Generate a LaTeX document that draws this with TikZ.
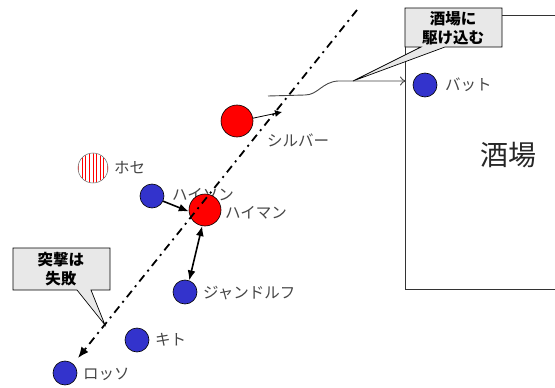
\documentclass[tikz,border=0pt]{standalone}
\usepackage{fontspec}
\setmainfont{Noto Sans CJK JP}
\usetikzlibrary{arrows.meta}
\definecolor{guyblue}{RGB}{51,51,204}
\definecolor{guyred}{RGB}{255,0,0}
\definecolor{calloutgray}{RGB}{232,232,232}
\definecolor{labelgray}{RGB}{70,70,70}

\begin{document}
\begin{tikzpicture}[x=1pt,y=-1pt,
  blueguy/.style={circle,draw=black,line width=0.6pt,fill=guyblue,minimum size=24pt,inner sep=0pt},
  redguy/.style={circle,draw=black,line width=0.6pt,fill=guyred,minimum size=32pt,inner sep=0pt},
  guylabel/.style={anchor=west,text=labelgray,font=\fontsize{15.5}{15.5}\selectfont,inner sep=0pt},
  callout/.style={draw=black,line width=0.7pt,fill=calloutgray},
  callouttext/.style={font=\fontsize{15.5}{19}\selectfont\bfseries,align=center,inner sep=0pt},
  movearrow/.style={line width=1.6pt},
  dashdotline/.style={line width=1.8pt,dash pattern=on 8pt off 5pt on 2pt off 5pt}
]
\useasboundingbox (0,0) rectangle (555,388);
\fill[white] (0,0) rectangle (555,388);

% the tavern
\draw[line width=0.8pt,black!80] (555,15) -- (405,15) -- (405,289) -- (555,289);
\node[font=\fontsize{28}{28}\selectfont,text=black!85] (tavern) at (508,155) {酒場};

% callout over the tavern door
\coordinate (tip1) at (353,81);
\draw[callout] (405,8) -- (502,8) -- (502,47) -- (445,47) -- (tip1) -- (421,47) -- (405,47) -- cycle;
\node[callouttext] (note1) at (453,28) {酒場に\\駆け込む};

% the people
\node[blueguy] (bat) at (425,85) {};
\node[guylabel] (batlbl) at (445,85) {バット};

\node[redguy] (silver) at (237,121) {};
\node[guylabel] (silverlbl) at (267,140) {シルバー};

% Jose: striped marker
\node[circle,fill=white,minimum size=30pt,inner sep=0pt] (jose) at (93,168) {};
\begin{scope}
  \clip (93,168) circle (14.7pt);
  \foreach \k in {-4,...,4}
    \draw[color=guyred,line width=0.9pt] ({93+3.6*\k},150) -- ({93+3.6*\k},186);
\end{scope}
\draw[black!60,line width=0.5pt] (jose) circle (15pt);
\node[guylabel] (joselbl) at (114,168) {ホセ};

\node[blueguy] (hyson) at (152,196) {};
\node[guylabel] (hysonlbl) at (172,195) {ハイソン};

\node[redguy] (haiman) at (205,210) {};
\node[guylabel] (haimanlbl) at (225,213) {ハイマン};

\node[blueguy] (gandolf) at (185,292) {};
\node[guylabel] (gandolflbl) at (203,293) {ジャンドルフ};

\node[blueguy] (kito) at (137,340) {};
\node[guylabel] (kitolbl) at (155,340) {キト};

\node[blueguy] (rosso) at (65,373) {};
\node[guylabel] (rossolbl) at (83,374) {ロッソ};

% route into the tavern
\coordinate (door) at (406,81);
\draw[labelgray,line width=0.9pt,-{To[length=6pt,width=9pt]}]
  (268,96) -- (305,95) .. controls (318,95) and (322,82) .. (338,81) -- (door);

% moves
\coordinate (silveraim) at (282,112);
\draw[line width=0.8pt,-{Latex[length=7pt,width=7pt]}] (silver.10) -- (silveraim);
\draw[movearrow,-{Latex[length=10pt,width=8pt]}] (hyson.-25) -- (haiman.185);
\draw[movearrow,{Latex[length=10pt,width=8pt]}-{Latex[length=10pt,width=8pt]}] (haiman.-100) -- (gandolf.70);

% the charge line
\coordinate (ddtop) at (357,10);
\coordinate (ddend) at (78,358);
\draw[dashdotline,-{Latex[length=11pt,width=9pt]}] (ddtop) -- (ddend);

% failed charge callout
\coordinate (tip2) at (105,325);
\draw[callout] (13,248) -- (110,248) -- (110,290) -- (91,290) -- (tip2) -- (77,290) -- (13,290) -- cycle;
\node[callouttext] (note2) at (61,269) {突撃は\\失敗};
\end{tikzpicture}
\end{document}
